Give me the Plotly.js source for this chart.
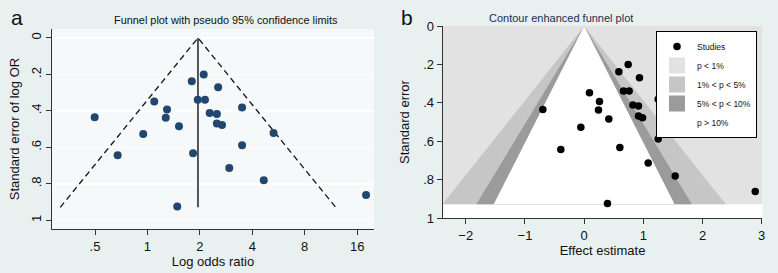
<!DOCTYPE html>
<html><head><meta charset="utf-8">
<script src="https://cdn.plot.ly/plotly-3.0.1.min.js"></script>
<style>html,body{margin:0;padding:0;background:#e8f0f0;}#chart{width:778px;height:273px;}</style>
</head><body><div id="chart"></div>
<script>
// Study data: log odds ratio (effect estimate) and its standard error
const effect = [-0.698, 0.09, 0.259, 0.242, 0.417, -0.056, 0.586, 0.744, 0.935, 0.665, 0.761, 0.823, 0.918, 0.918, 0.986, 1.251, 1.668, 1.251, -0.394, 0.603, 1.082, 1.538, 2.891, 0.394];
const se     = [0.435, 0.348, 0.393, 0.438, 0.485, 0.527, 0.238, 0.200, 0.270, 0.339, 0.339, 0.412, 0.417, 0.469, 0.478, 0.381, 0.522, 0.589, 0.643, 0.633, 0.713, 0.781, 0.862, 0.925];
const pooledLogOR = 0.668;
const seMax = 0.929;
const orTickVals = [0.5, 1, 2, 4, 8, 16];
const orTickText = ['.5', '1', '2', '4', '8', '16'];
const seTickVals = [0, 0.2, 0.4, 0.6, 0.8, 1];
const seTickText = ['0', '.2', '.4', '.6', '.8', '1'];
const effTickVals = [-2, -1, 0, 1, 2, 3];
const legendLabels = ['Studies', 'p < 1%', '1% < p < 5%', '5% < p < 10%', 'p > 10%'];
const zCut = [2.576, 1.96, 1.645];

const FONT = 'Liberation Sans, Arial, sans-serif';
const bX = [-2.39, 3.01];
const shade = ['#e2e2e2', '#c6c6c6', '#9b9b9b', '#ffffff'];

const oddsRatio = effect.map(v => Math.exp(v));
const traces = [];

// Panel a: pseudo 95% CI lines
const cOR = Math.exp(pooledLogOR);
traces.push({x: [Math.exp(pooledLogOR - 1.96 * seMax), cOR, Math.exp(pooledLogOR + 1.96 * seMax)],
  y: [seMax, 0, seMax], xaxis: 'x', yaxis: 'y', mode: 'lines', showlegend: false,
  line: {color: '#111', width: 1.3, dash: '6px,4px'}, hoverinfo: 'skip'});
traces.push({x: [cOR, cOR], y: [0, seMax], xaxis: 'x', yaxis: 'y', mode: 'lines', showlegend: false,
  line: {color: '#111', width: 1.4}, hoverinfo: 'skip'});
traces.push({x: oddsRatio, y: se, xaxis: 'x', yaxis: 'y', mode: 'markers', showlegend: false,
  marker: {color: '#22476f', size: 8}});

// Panel b: contour regions
traces.push({x: [-5, 5, 5, -5], y: [0, 0, seMax, seMax], fill: 'toself', mode: 'none',
  fillcolor: shade[0], xaxis: 'x2', yaxis: 'y2', showlegend: false, hoverinfo: 'skip'});
zCut.forEach((z, i) => {
  traces.push({x: [-z * seMax, 0, z * seMax], y: [seMax, 0, seMax], fill: 'toself', mode: 'none',
    fillcolor: shade[i + 1], xaxis: 'x2', yaxis: 'y2', showlegend: false, hoverinfo: 'skip'});
});
traces.push({x: effect, y: se, xaxis: 'x2', yaxis: 'y2', mode: 'markers', name: legendLabels[0],
  marker: {color: '#000', size: 7.5}});
// legend keys for the contour shading
for (let i = 0; i < 4; i++) {
  traces.push({x: [null], y: [null], xaxis: 'x2', yaxis: 'y2', mode: 'markers', name: legendLabels[i + 1],
    marker: {symbol: 'square', size: 16, color: shade[i], line: {width: 0}}});
}

const axisBase = {showline: true, linecolor: '#333', linewidth: 1, ticks: 'outside', ticklen: 5,
  tickcolor: '#333', tickfont: {family: FONT, size: 13, color: '#111'}, zeroline: false};

const layout = {
  width: 778, height: 273, margin: {l: 0, r: 0, t: 0, b: 0},
  paper_bgcolor: '#e8f0f0', plot_bgcolor: '#f6f9f9',
  font: {family: FONT, color: '#111'},
  xaxis: Object.assign({}, axisBase, {domain: [52 / 778, 374 / 778], anchor: 'y', type: 'log',
    range: [Math.log10(0.283), Math.log10(20)], tickvals: orTickVals, ticktext: orTickText, showgrid: false,
    title: {text: 'Log odds ratio', font: {family: FONT, size: 13, color: '#111'}, standoff: 0}}),
  yaxis: Object.assign({}, axisBase, {domain: [44 / 273, 244 / 273], anchor: 'x',
    range: [1.048, -0.049], tickvals: seTickVals, ticktext: seTickText, tickangle: -90,
    showgrid: true, gridcolor: '#ffffff', gridwidth: 1.5,
    title: {text: 'Standard error of log OR', font: {family: FONT, size: 13, color: '#111'}, standoff: 6}}),
  xaxis2: Object.assign({}, axisBase, {domain: [442.7 / 778, 762.3 / 778], anchor: 'y2',
    range: bX, tickvals: effTickVals, showgrid: false,
    title: {text: 'Effect estimate', font: {family: FONT, size: 13, color: '#111'}, standoff: 0}}),
  yaxis2: Object.assign({}, axisBase, {domain: [55 / 273, 247 / 273], anchor: 'x2',
    range: [1, 0], tickvals: seTickVals, ticktext: seTickText, showgrid: false,
    title: {text: 'Standard error', font: {family: FONT, size: 13, color: '#111'}, standoff: 10}}),
  shapes: [{type: 'rect', xref: 'x2 domain', yref: 'y2 domain', x0: 0, x1: 1, y0: 0, y1: 1,
    fillcolor: '#ffffff', line: {width: 0}, layer: 'below'}],
  legend: {x: 757 / 778, y: (273 - 31) / 273, xanchor: 'right', yanchor: 'top',
    bgcolor: '#ffffff', bordercolor: '#000', borderwidth: 1,
    font: {family: FONT, size: 8.5, color: '#111'}, itemwidth: 30},
  annotations: [
    {text: 'a', x: 17 / 778, y: (273 - 18) / 273, xref: 'paper', yref: 'paper', showarrow: false,
      xanchor: 'center', yanchor: 'middle', font: {family: FONT, size: 21, color: '#111'}},
    {text: 'b', x: 407 / 778, y: (273 - 18) / 273, xref: 'paper', yref: 'paper', showarrow: false,
      xanchor: 'center', yanchor: 'middle', font: {family: FONT, size: 21, color: '#111'}},
    {text: 'Funnel plot with pseudo 95% confidence limits', x: 226 / 778, y: (273 - 20) / 273,
      xref: 'paper', yref: 'paper', showarrow: false, xanchor: 'center', yanchor: 'middle',
      font: {family: FONT, size: 10.9, color: '#111'}},
    {text: 'Contour enhanced funnel plot', x: 561 / 778, y: (273 - 17.5) / 273,
      xref: 'paper', yref: 'paper', showarrow: false, xanchor: 'center', yanchor: 'middle',
      font: {family: FONT, size: 11, color: '#1f2d50'}}
  ]
};

Plotly.newPlot('chart', traces, layout, {displayModeBar: false, staticPlot: true});
</script></body></html>
